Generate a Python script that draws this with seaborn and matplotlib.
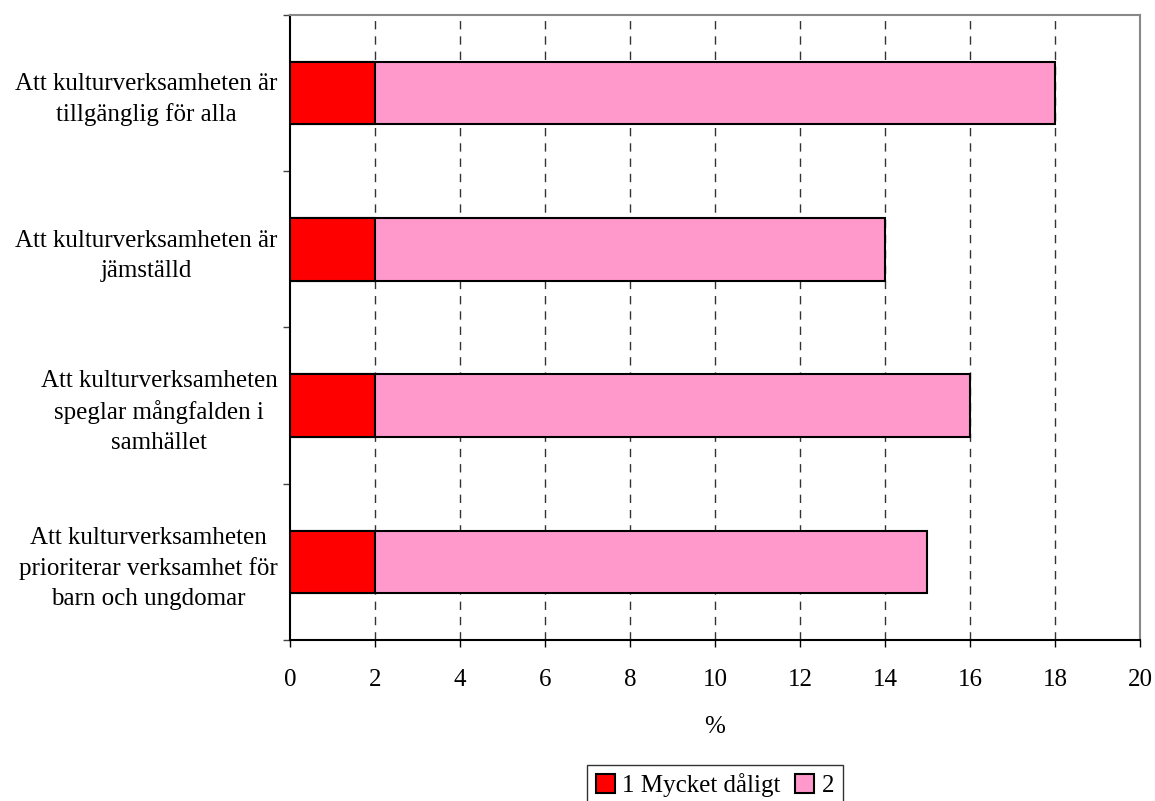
import pandas as pd
import matplotlib.pyplot as plt
import seaborn as sns

# Chart data
categories = [
    "Att kulturverksamheten är\ntillgänglig för alla",
    "Att kulturverksamheten är\njämställd",
    "Att kulturverksamheten\nspeglar mångfalden i\nsamhället",
    "Att kulturverksamheten\nprioriterar verksamhet för\nbarn och ungdomar",
]
mycket_daligt = [2, 2, 2, 2]
betyg_2 = [16, 12, 14, 13]
series_names = ["1 Mycket dåligt", "2"]
colors = ["#FF0000", "#FF99CC"]
x_ticks = list(range(0, 21, 2))

df = pd.DataFrame({"kategori": categories, "s1": mycket_daligt, "s2": betyg_2})
df["total"] = df["s1"] + df["s2"]

sns.set_style("white")
plt.rcParams["font.family"] = ["Liberation Serif", "DejaVu Serif"]
plt.rcParams["text.color"] = "black"
plt.rcParams["axes.labelcolor"] = "black"
plt.rcParams["xtick.labelcolor"] = "black"
plt.rcParams["ytick.labelcolor"] = "black"

fig = plt.figure(figsize=(11.55, 8.01), dpi=100)
ax = fig.add_axes([0.2511, 0.201, 0.7359, 0.7803])

# Stacked bars: full length first, first segment on top
sns.barplot(data=df, y="kategori", x="total", color=colors[1], orient="h",
            width=0.4, edgecolor="black", linewidth=1.5, saturation=1,
            ax=ax, label=series_names[1], zorder=3)
sns.barplot(data=df, y="kategori", x="s1", color=colors[0], orient="h",
            width=0.4, edgecolor="black", linewidth=1.5, saturation=1,
            ax=ax, label=series_names[0], zorder=4)

ax.set_xlim(0, 20)
ax.set_ylim(3.5, -0.5)
ax.set_xticks(x_ticks)
ax.set_xticklabels([str(t) for t in x_ticks], fontsize=18, color="black")
ax.set_yticks(range(len(categories)))
ax.set_yticklabels(categories, fontsize=18, multialignment="center",
                   linespacing=1.45, color="black")
ax.tick_params(axis="y", length=0, pad=9)
ax.set_yticks([-0.5, 0.5, 1.5, 2.5, 3.5], minor=True)
ax.tick_params(axis="y", which="minor", length=5, width=1, color="#444444", direction="out", left=True)
ax.tick_params(axis="x", length=5, width=1, color="black", direction="out", bottom=True, pad=16)

ax.set_xlabel("%", fontsize=18, labelpad=18, color="black")
ax.set_ylabel("")

for t in x_ticks[1:-1]:
    ax.axvline(t, color="#333333", linestyle=(0, (6, 5)), linewidth=1.0, zorder=1)

for side in ["left", "bottom"]:
    ax.spines[side].set_color("black")
    ax.spines[side].set_linewidth(1.5)
for side in ["top", "right"]:
    ax.spines[side].set_color("#888888")
    ax.spines[side].set_linewidth(1.5)
    ax.spines[side].set_visible(True)

handles, labels = ax.get_legend_handles_labels()
order = [labels.index(n) for n in series_names]
leg = fig.legend([handles[i] for i in order], [labels[i] for i in order],
                 loc="lower center", bbox_to_anchor=(0.619, -0.022), ncol=2,
                 fontsize=18, frameon=True, fancybox=False, edgecolor="black",
                 handlelength=0.75, handleheight=0.75, handletextpad=0.3,
                 columnspacing=0.6, borderpad=0.35, labelcolor="black")
leg.get_frame().set_linewidth(1.0)
if ax.get_legend():
    ax.get_legend().remove()

fig.savefig("out.png", dpi=100, facecolor="white")
